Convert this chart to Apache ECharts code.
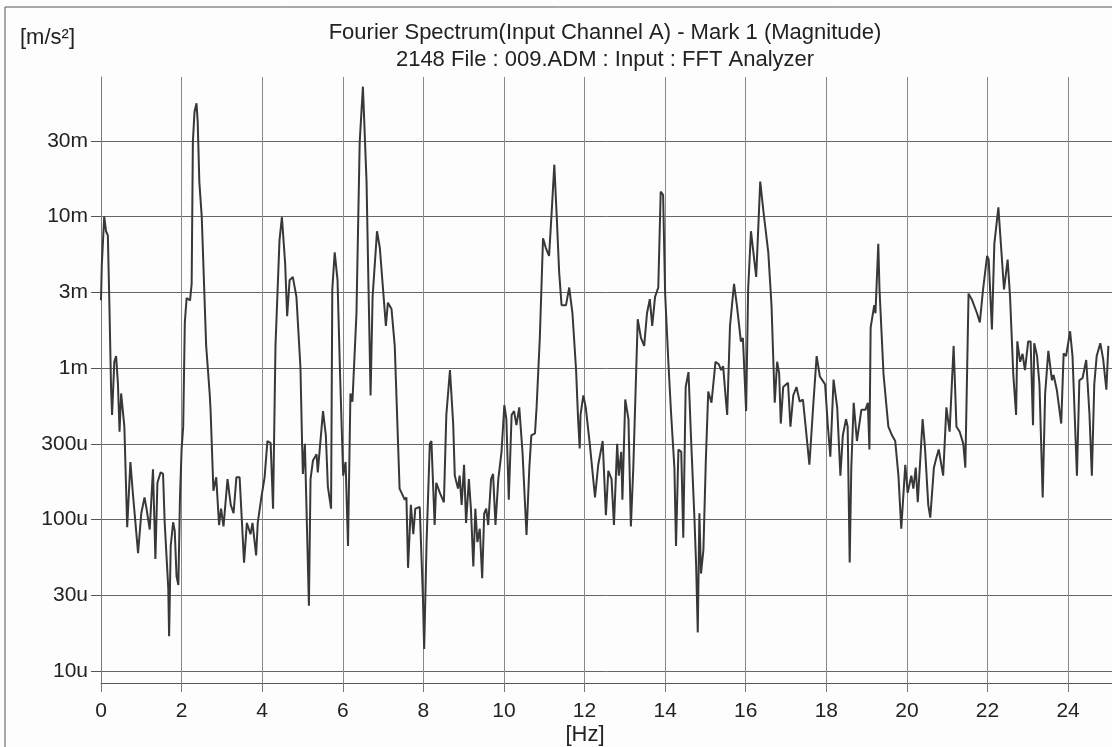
<!DOCTYPE html>
<html>
<head>
<meta charset="utf-8">
<title>Fourier Spectrum</title>
<script src="https://cdn.jsdelivr.net/npm/echarts@6/dist/echarts.min.js"></script>
<style>
  html, body { margin: 0; padding: 0; background: #fdfdfd; }
  #chart { width: 1112px; height: 747px; }
</style>
</head>
<body>
<div id="chart"></div>
<script>
// Spectrum samples: frequency [Hz] and magnitude [µm/s²]
const freqHz = [
  0, 0.02, 0.08, 0.125, 0.17, 0.21, 0.25, 0.275, 0.33, 0.375, 0.42, 0.46, 0.5, 0.54, 0.58, 0.65, 0.73, 0.79, 0.92, 1.0,
  1.08, 1.125, 1.21, 1.29, 1.35, 1.4, 1.48, 1.54, 1.58, 1.67, 1.69, 1.73, 1.79, 1.83, 1.875, 1.92, 1.96,
  2.0, 2.04, 2.08, 2.125, 2.21, 2.25, 2.28, 2.32, 2.37, 2.4, 2.44, 2.5, 2.61, 2.7, 2.72, 2.79, 2.86, 2.93, 2.98, 3.04,
  3.14, 3.22, 3.29, 3.36, 3.44, 3.55, 3.62, 3.71, 3.76, 3.85, 3.89, 3.98,
  4.06, 4.13, 4.21, 4.27, 4.33, 4.43, 4.49, 4.57, 4.62, 4.68, 4.76, 4.85, 4.95, 4.99, 5.01, 5.06, 5.1, 5.16, 5.2, 5.26,
  5.35, 5.38, 5.44, 5.51, 5.58, 5.63, 5.71, 5.74, 5.8, 5.87, 5.93,
  6.01, 6.07, 6.13, 6.19, 6.24, 6.34, 6.42, 6.5, 6.59, 6.64, 6.69, 6.74, 6.85, 6.92, 7.07, 7.12, 7.21, 7.29, 7.41, 7.54,
  7.58, 7.62, 7.69, 7.75, 7.8, 7.91, 7.99,
  8.02, 8.08, 8.16, 8.2, 8.28, 8.32, 8.41, 8.51, 8.57, 8.66, 8.74, 8.78, 8.86, 8.9, 8.95, 9.01, 9.06, 9.13, 9.18, 9.24,
  9.29, 9.34, 9.4, 9.46, 9.51, 9.56, 9.61, 9.68, 9.73, 9.79, 9.86, 9.94,
  10.01, 10.06, 10.12, 10.19, 10.25, 10.31, 10.38, 10.46, 10.56, 10.63, 10.68, 10.77, 10.81, 10.89, 10.97, 11.04, 11.12,
  11.18, 11.25, 11.31, 11.37, 11.43, 11.54, 11.62, 11.7, 11.79, 11.84, 11.88, 11.9, 11.97,
  12.03, 12.13, 12.26, 12.34, 12.45, 12.53, 12.59, 12.67, 12.73, 12.81, 12.85, 12.91, 12.94, 13.01, 13.09, 13.15, 13.21,
  13.32, 13.4, 13.48, 13.55, 13.62, 13.68, 13.75, 13.83, 13.89, 13.95,
  14.0, 14.08, 14.15, 14.23, 14.27, 14.33, 14.4, 14.45, 14.51, 14.58, 14.64, 14.73, 14.77, 14.81, 14.85, 14.89, 14.95,
  15.01, 15.07, 15.15, 15.25, 15.33, 15.39, 15.44, 15.49, 15.54, 15.61, 15.71, 15.78, 15.88, 15.93,
  16.01, 16.06, 16.13, 16.26, 16.36, 16.44, 16.56, 16.64, 16.72, 16.78, 16.83, 16.87, 16.93, 17.05, 17.11, 17.18, 17.26,
  17.34, 17.42, 17.48, 17.58, 17.68, 17.76, 17.84, 17.97,
  18.04, 18.1, 18.18, 18.27, 18.35, 18.41, 18.49, 18.53, 18.58, 18.62, 18.68, 18.76, 18.87, 18.97, 19.03, 19.07, 19.1,
  19.19, 19.22, 19.29, 19.32, 19.42, 19.54, 19.63, 19.71, 19.79, 19.86, 19.96,
  20.02, 20.11, 20.16, 20.22, 20.27, 20.39, 20.45, 20.53, 20.58, 20.67, 20.73, 20.79, 20.9, 20.98, 21.06, 21.16, 21.23,
  21.31, 21.4, 21.45, 21.53, 21.62, 21.74, 21.81, 21.89, 21.99,
  22.03, 22.11, 22.17, 22.27, 22.41, 22.5, 22.56, 22.64, 22.71, 22.74, 22.81, 22.87, 22.93, 23.01, 23.07, 23.13, 23.16,
  23.23, 23.29, 23.37, 23.43, 23.51, 23.6, 23.64, 23.72, 23.83, 23.89, 23.95, 24.05, 24.11, 24.22, 24.28, 24.36, 24.45,
  24.53, 24.59, 24.65, 24.71, 24.8, 24.87, 24.95, 25.0
];
const accelMicro = [
  2800, 4800, 10000, 8000, 7500, 2500, 730, 490, 1100, 1200, 790, 380, 680, 700, 410, 89, 240, 150, 60, 110,
  140, 120, 86, 215, 55, 175, 205, 200, 96, 35, 17, 67, 96, 84, 42, 37, 140,
  290, 410, 2000, 2900, 2800, 3600, 31000, 49000, 56000, 42000, 17000, 10000, 1400, 660, 520, 155, 190, 92, 118, 90,
  185, 125, 110, 190, 190, 52, 95, 80, 95, 58, 95, 140,
  190, 330, 320, 118, 1400, 7000, 9900, 4900, 2200, 3800, 4000, 2950, 1000, 320, 200, 316, 118, 27, 185, 245,
  270, 205, 316, 520, 360, 165, 118, 3300, 5800, 3800, 970,
  195, 240, 67, 680, 600, 2300, 31000, 72000, 17000, 3300, 660, 2950, 8000, 6200, 1900, 2700, 2450, 1400, 160, 135,
  140, 48, 125, 80, 118, 121, 30,
  14, 71, 316, 330, 92, 175, 150, 130, 490, 970, 430, 195, 160, 195, 125, 230, 95, 185, 118, 49,
  118, 71, 87, 41, 110, 118, 92, 185, 200, 92, 185, 280,
  570, 460, 135, 490, 520, 420, 550, 280, 79, 220, 360, 370, 550, 1580, 7200, 6200, 5500,
  10200, 22000, 10000, 4300, 2600, 2600, 3400, 2300, 970, 460, 295, 490, 660,
  550, 316, 140, 230, 330, 107, 210, 185, 92, 316, 195, 280, 135, 620, 460, 90, 220,
  2100, 1580, 1400, 2300, 2850, 1900, 2950, 3400, 14600, 13900,
  3100, 1100, 490, 220, 67, 290, 280, 76, 750, 940, 360, 98, 49, 18, 110, 44, 63,
  245, 700, 590, 1100, 1060, 970, 1030, 700, 490, 1900, 3600, 2600, 1500, 1580,
  520, 3300, 8000, 4000, 17000, 10800, 5800, 2600, 590, 1100, 920, 430, 750, 800, 410, 660, 750,
  600, 620, 430, 230, 590, 1200, 880, 780,
  410, 260, 840, 550, 195, 360, 460, 410, 52, 220, 590, 330, 530, 530, 590, 290, 1850,
  2600, 2300, 6600, 3300, 910, 410, 360, 330, 195, 87, 230,
  150, 195, 160, 220, 130, 460, 295, 125, 103, 220, 255, 290, 195, 550, 380, 1400, 410,
  380, 316, 220, 3100, 2800, 2300, 2000, 3300, 5500,
  5200, 1800, 6600, 11500, 3300, 5200, 2950, 910, 490, 1500, 1100, 1240, 970, 1500, 1500, 420, 1460,
  1200, 780, 140, 670, 1300, 830, 900, 720, 430, 1250, 1200, 1750, 1200, 195, 830, 860, 1130,
  500, 195, 780, 1200, 1460, 1150, 720, 1400
];

// Half-decade tick labels of the magnitude axis, from 10 µm/s² upward
const yTickLabels = ['10u', '30u', '100u', '300u', '1m', '3m', '10m', '30m'];

const titleLine1 = 'Fourier Spectrum(Input Channel A) - Mark 1 (Magnitude)';
const titleLine2 = '2148 File : 009.ADM : Input : FFT Analyzer';
const yUnit = '[m/s\u00B2]';
const xUnit = '[Hz]';

const FONT = '"Liberation Sans", Arial, Helvetica, sans-serif';
const spectrum = freqHz.map((f, i) => [f, accelMicro[i]]);

const chart = echarts.init(document.getElementById('chart'), null, { renderer: 'canvas' });

chart.setOption({
  backgroundColor: '#fdfdfd',
  animation: false,
  textStyle: { fontFamily: FONT },
  grid: { left: 101, right: 0, top: 77, bottom: 64, containLabel: false },
  xAxis: {
    type: 'value',
    min: 0,
    max: 25.09,
    interval: 2,
    axisLine: { show: true, onZero: false, lineStyle: { color: '#555', width: 1 } },
    axisTick: { show: true, length: 9, lineStyle: { color: '#777', width: 1 } },
    axisLabel: { color: '#222', fontSize: 21, fontFamily: FONT, margin: 18, showMaxLabel: false },
    splitLine: { show: true, showMaxLine: false, lineStyle: { color: '#888', width: 1 } }
  },
  yAxis: {
    type: 'log',
    logBase: Math.sqrt(10),
    min: 8.34,
    max: 83400,
    axisLine: { show: true, lineStyle: { color: '#777', width: 1 } },
    axisTick: { show: true, length: 10, lineStyle: { color: '#555', width: 1 } },
    axisLabel: {
      color: '#222', fontSize: 21, fontFamily: FONT, margin: 13,
      showMinLabel: false, showMaxLabel: false,
      formatter: (v) => {
        const k = Math.round(2 * Math.log10(v)) - 2;
        return yTickLabels[k] || '';
      }
    },
    splitLine: { show: true, showMinLine: true, showMaxLine: false, lineStyle: { color: '#666', width: 1 } }
  },
  graphic: [
    { type: 'polyline', silent: true, shape: { points: [[5, 747], [5, 7], [1112, 7]] },
      style: { stroke: '#555', lineWidth: 1, fill: null } },
    { type: 'text', x: 605, y: 33, style: { text: titleLine1, font: '22px ' + FONT, fill: '#222', align: 'center', verticalAlign: 'middle' } },
    { type: 'text', x: 605, y: 60, style: { text: titleLine2, font: '22px ' + FONT, fill: '#222', align: 'center', verticalAlign: 'middle' } },
    { type: 'text', x: 20, y: 38, style: { text: yUnit, font: '22px ' + FONT, fill: '#222', align: 'left', verticalAlign: 'middle' } },
    { type: 'text', x: 585, y: 735, style: { text: xUnit, font: '22px ' + FONT, fill: '#222', align: 'center', verticalAlign: 'middle' } }
  ],
  series: [{
    type: 'line',
    data: spectrum,
    showSymbol: false,
    symbol: 'none',
    clip: true,
    lineStyle: { color: '#383838', width: 2 }
  }]
});
</script>
</body>
</html>
